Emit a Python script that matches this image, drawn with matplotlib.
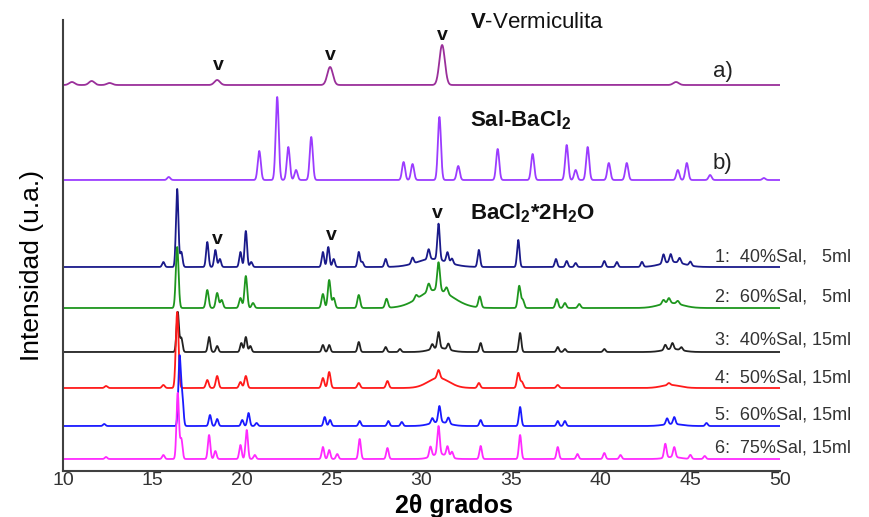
import numpy as np
import matplotlib
matplotlib.use("Agg")
import matplotlib.pyplot as plt

plt.rcParams['font.family'] = ['Liberation Sans', 'DejaVu Sans']
plt.rcParams['mathtext.fontset'] = 'custom'
plt.rcParams['mathtext.rm'] = 'Liberation Sans'
plt.rcParams['mathtext.bf'] = 'Liberation Sans:bold'
plt.rcParams['mathtext.it'] = 'Liberation Sans:italic'

# ---------------- data ----------------
names = ["a", "b", "1", "2", "3", "4", "5", "6"]
colors = ["#9a2f9a", "#9b3cff", "#1a1a8a", "#1e961e", "#222222", "#ff1a1a", "#1a1aff", "#ff2aff"]
offsets = [386, 291, 204, 163, 119, 83, 45, 12]

peak_pos = {
    "a": [10.5, 11.6, 12.6, 18.6, 24.9, 31.15, 44.2],
    "b": [15.9, 20.95, 21.95, 22.57, 23.0, 23.85, 29.0, 29.5, 31.0, 32.05, 34.25,
          36.2, 38.1, 38.6, 39.27, 40.45, 41.45, 44.3, 44.8, 46.1, 49.1],
    "1": [15.6, 16.37, 16.6, 18.05, 18.5, 18.75, 19.9, 20.2, 20.5, 24.5, 24.8, 25.1,
          26.5, 26.7, 28.0, 29.5, 30.4, 30.95, 31.45, 31.7, 33.2, 35.4, 37.5, 38.1,
          38.6, 40.2, 40.9, 42.3, 43.5, 43.9, 44.4, 45.0],
    "2": [16.37, 18.05, 18.6, 18.85, 19.9, 20.2, 20.6, 24.5, 24.85, 25.1, 26.5, 28.05,
          29.7, 30.4, 30.95, 31.4, 33.25, 35.45, 35.65, 37.55, 38.0, 38.8, 43.5, 43.8, 44.3],
    "3": [16.4, 16.6, 18.15, 18.6, 19.95, 20.2, 20.45, 24.5, 24.85, 26.5, 28.0, 28.8,
          30.6, 30.95, 31.5, 33.3, 35.5, 37.6, 38.0, 40.2, 43.6, 44.0, 44.5],
    "4": [12.4, 15.6, 16.37, 18.05, 18.6, 19.9, 20.2, 24.5, 24.85, 26.5, 28.1, 30.95,
          33.2, 35.4, 35.6, 37.6, 43.8],
    "5": [12.3, 16.5, 16.65, 18.2, 18.6, 20.0, 20.35, 20.8, 24.6, 24.9, 26.55, 28.15,
          28.9, 30.6, 31.0, 31.5, 33.3, 35.5, 37.6, 38.0, 43.7, 44.1, 45.9],
    "6": [12.4, 15.6, 16.4, 16.6, 18.15, 18.5, 19.9, 20.25, 20.7, 24.5, 24.85, 25.3,
          26.55, 28.1, 30.5, 30.95, 31.45, 31.7, 33.3, 35.5, 37.6, 38.7, 40.2, 41.1,
          43.6, 44.1, 45.0, 45.8],
}
peak_h = {
    "a": [3, 4, 2, 5, 18, 40, 3],
    "b": [3, 29, 83, 33, 10, 43, 18, 16, 63, 14, 31, 26, 35, 10, 33, 17, 17, 10, 17, 5, 2],
    "1": [5, 78, 15, 25, 17, 8, 15, 36, 5, 15, 20, 8, 15, 5, 8, 6, 10, 36, 10, 5, 17, 27,
          8, 6, 4, 6, 5, 5, 9, 8, 5, 4],
    "2": [61, 18, 15, 8, 10, 32, 5, 14, 28, 10, 13, 9, 4, 8, 28, 6, 11, 22, 8, 9, 5, 4, 4, 5, 3],
    "3": [40, 14, 15, 6, 9, 15, 6, 7, 7, 10, 5, 3, 5, 16, 6, 9, 19, 5, 3, 3, 5, 6, 3],
    "4": [2, 3, 76, 8, 12, 6, 12, 10, 16, 5, 7, 8, 5, 15, 6, 3, 2],
    "5": [2, 68, 30, 11, 7, 6, 13, 3, 9, 6, 5, 5, 4, 5, 16, 6, 6, 19, 5, 5, 6, 7, 3],
    "6": [2, 4, 66, 20, 24, 8, 14, 29, 4, 12, 9, 5, 20, 11, 10, 28, 10, 6, 13, 24, 12, 5,
          6, 4, 14, 10, 4, 3],
}
peak_fwhm = {"a": 0.36, "b": 0.2, "1": 0.16, "2": 0.18, "3": 0.16, "4": 0.18, "5": 0.16, "6": 0.16}

# broad humps: (position, height, fwhm)
hump_pos = {"1": [30.6, 44.0], "2": [30.8, 43.9], "3": [31.0, 44.0], "4": [30.95, 43.9],
            "5": [31.0, 44.0], "6": [31.0, 44.0]}
hump_h = {"1": [8, 5], "2": [18, 5], "3": [4, 3], "4": [10, 3], "5": [4, 2], "6": [5, 2]}
hump_w = {"1": [2.0, 1.5], "2": [2.2, 1.5], "3": [1.2, 1.2], "4": [1.4, 1.2],
          "5": [1.2, 1.2], "6": [1.0, 1.0]}

series_labels = ["1:  40%Sal,   5ml", "2:  60%Sal,   5ml", "3:  40%Sal, 15ml",
                 "4:  50%Sal, 15ml", "5:  60%Sal, 15ml", "6:  75%Sal, 15ml"]
xticks = [10, 15, 20, 25, 30, 35, 40, 45, 50]

# ---------------- build profiles ----------------
x = np.linspace(10, 50, 4001)

def profile(pos, h, w):
    y = np.zeros_like(x)
    s = w / 2.3548
    for p, a in zip(pos, h):
        y += a * np.exp(-0.5 * ((x - p) / s) ** 2)
    return y

fig = plt.figure(figsize=(8.69, 5.17), dpi=100)
ax = fig.add_axes([63 / 869, 46 / 517, 717 / 869, 451 / 517])

for name, col, off in zip(names, colors, offsets):
    y = profile(peak_pos[name], peak_h[name], peak_fwhm[name])
    if name in hump_pos:
        for p, a, w in zip(hump_pos[name], hump_h[name], hump_w[name]):
            y += a * np.exp(-0.5 * ((x - p) / (w / 2.3548)) ** 2)
    ax.plot(x, y + off, color=col, lw=1.3)

ax.set_xlim(10, 50)
ax.set_ylim(0, 451)
ax.set_yticks([])
ax.set_xticks(xticks)
ax.set_xticklabels([str(t) for t in xticks], fontsize=14, color='#333333')
ax.tick_params(axis='x', length=0, pad=1)
for sp in ['top', 'right']:
    ax.spines[sp].set_visible(False)
for sp in ['left', 'bottom']:
    ax.spines[sp].set_color('#404040')
    ax.spines[sp].set_linewidth(1.5)

ax.set_xlabel("2θ grados", fontsize=18, fontweight='bold', va='center')
ax.xaxis.set_label_coords(0.545, -0.078)
ax.set_ylabel("Intensidad (u.a.)", fontsize=19, va='center')
ax.yaxis.set_label_coords(-0.043, 0.455)

# annotations
ax.text(32.7, 448, r"$\mathbf{V}$-Vermiculita", fontsize=16, ha='left', va='center', color='#111111')
ax.text(32.7, 351, r"Sal-BaCl$_\mathbf{2}$", fontsize=16, fontweight='bold', ha='left', va='center', color='#111111')
ax.text(32.7, 258, r"BaCl$_\mathbf{2}$*2H$_\mathbf{2}$O", fontsize=16, fontweight='bold', ha='left', va='center', color='#111111')
for vx, vy in [(18.65, 405), (24.9, 415), (31.15, 436), (18.6, 231), (24.95, 236), (30.9, 258)]:
    ax.text(vx, vy, "v", fontsize=14, fontweight='bold', ha='center', va='center', color='#111111')
ax.text(46.26, 399, "a)", fontsize=16, ha='left', va='center', color='#222222')
ax.text(46.26, 308, "b)", fontsize=16, ha='left', va='center', color='#222222')
label_y = [214, 174, 131, 93, 56, 23]
for lab, ly in zip(series_labels, label_y):
    ax.text(46.37, ly, lab, fontsize=13, ha='left', va='center', color='#333333', clip_on=False)

fig.savefig("out.png", dpi=100)
